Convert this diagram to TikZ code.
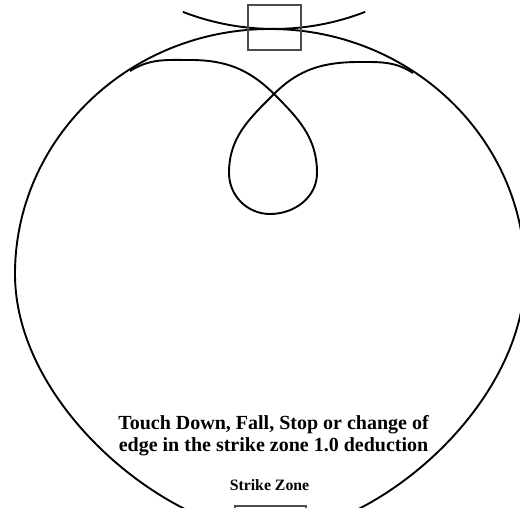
\documentclass[tikz,border=0pt]{standalone}
\usepackage{fontspec}
\setmainfont{Liberation Serif}
\begin{document}
\begin{tikzpicture}[x=0.5pt,y=0.5pt,line width=0.95pt]
  \useasboundingbox (0,0) rectangle (520,508);
  \clip (0,0) rectangle (520,508);
  % rink outline and the upper arc touching it
  \draw (525,234) arc[start angle=0,end angle=180,x radius=255,y radius=245]
    .. controls (15,100) and (172,-25) .. (272,-25)
    .. controls (372,-25) and (525,100) .. (525,234);
  \draw (182.9,496.1) arc[start angle=248.8,end angle=291.2,radius=252];
  % loop of the jump path
  \coordinate (m1) at (130,437);
  \coordinate (a1) at (190,448);
  \coordinate (x) at (274,414);
  \coordinate (r) at (317,335);
  \coordinate (b) at (270,294);
  \coordinate (l) at (229,335);
  \coordinate (a2) at (360,446);
  \coordinate (m2) at (413,435);
  \draw (m1) to[out=32,in=180] (a1) to[out=0,in=135] (x)
    to[out=-45,in=90] (r) to[out=-90,in=0] (b) to[out=180,in=-90] (l)
    to[out=90,in=-135] (x) to[out=45,in=180] (a2) to[out=0,in=147] (m2);
  % strike zone boxes
  \draw[black!70,line width=0.6pt] (248,458) rectangle (301,503);
  \draw[black!70,line width=0.6pt] (235,2) rectangle (306,-20);
  \node[align=center,font=\bfseries\fontsize{10}{11}\selectfont] (rule) at (273.5,72)
    {Touch Down, Fall, Stop or change of\\edge in the strike zone 1.0 deduction};
  \node[font=\bfseries\fontsize{7.9}{9}\selectfont] (legend) at (269.5,23) {Strike Zone};
\end{tikzpicture}
\end{document}
